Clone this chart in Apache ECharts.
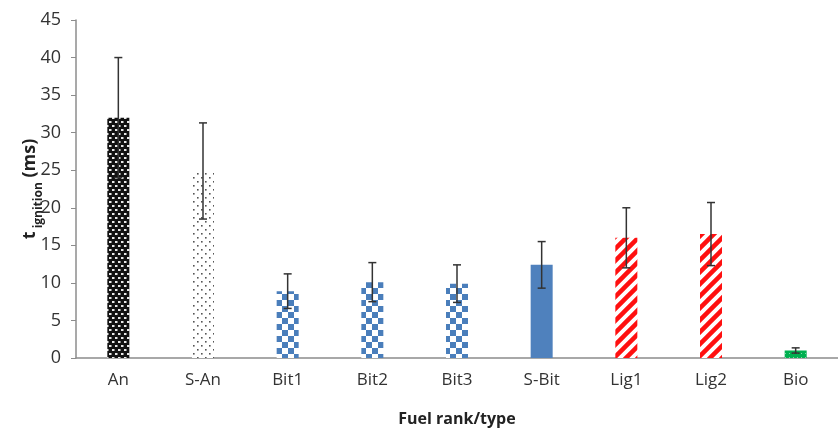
<!DOCTYPE html>
<html>
<head>
<meta charset="utf-8">
<script src="https://cdn.jsdelivr.net/npm/echarts@6/dist/echarts.min.js"></script>
<style>
  html, body { margin: 0; padding: 0; background: #fff; }
  .chart { width: 838px; height: 432px; }
</style>
</head>
<body>
<div class="chart"></div>
<script>
// data
var categories = ['An', 'S-An', 'Bit1', 'Bit2', 'Bit3', 'S-Bit', 'Lig1', 'Lig2', 'Bio'];
var ignitionTime = [32.0, 24.9, 8.9, 10.1, 9.9, 12.4, 16.0, 16.5, 1.0];
var errorSize = [8.0, 6.4, 2.3, 2.6, 2.5, 3.1, 4.0, 4.2, 0.35];

// small helper to build repeating fill patterns
function makePattern(w, h, draw) {
  var c = document.createElement('canvas');
  c.width = w;
  c.height = h;
  var ctx = c.getContext('2d');
  draw(ctx, w, h);
  return { image: c, repeat: 'repeat' };
}

var patAn = makePattern(6, 8, function (ctx, w, h) {
  ctx.fillStyle = '#111';
  ctx.fillRect(0, 0, w, h);
  ctx.fillStyle = '#e8e8e8';
  ctx.fillRect(1, 1, 2.5, 2);
  ctx.fillRect(4, 5, 2, 2);
  ctx.fillRect(0, 5, 0.5, 2);
});

var patSAn = makePattern(8, 8, function (ctx, w, h) {
  ctx.fillStyle = '#fff';
  ctx.fillRect(0, 0, w, h);
  ctx.fillStyle = '#555';
  ctx.fillRect(1, 1, 1.6, 1.6);
  ctx.fillRect(5, 5, 1.6, 1.6);
});

var patBit = makePattern(12, 12, function (ctx, w, h) {
  ctx.fillStyle = '#fff';
  ctx.fillRect(0, 0, w, h);
  ctx.fillStyle = '#4a7ebb';
  ctx.fillRect(0, 0, 6, 6);
  ctx.fillRect(6, 6, 6, 6);
});

var patLig = makePattern(12, 12, function (ctx, w, h) {
  ctx.fillStyle = '#fff';
  ctx.fillRect(0, 0, w, h);
  ctx.strokeStyle = '#ff1010';
  ctx.lineWidth = 4.5;
  ctx.beginPath();
  ctx.moveTo(-1, h + 1); ctx.lineTo(w + 1, -1);
  ctx.moveTo(-w / 2 - 1, h / 2 + 1); ctx.lineTo(w / 2 + 1, -h / 2 - 1);
  ctx.moveTo(w / 2 - 1, h * 1.5 + 1); ctx.lineTo(w * 1.5 + 1, h / 2 - 1);
  ctx.stroke();
});

var patBio = makePattern(4, 4, function (ctx, w, h) {
  ctx.fillStyle = '#00b050';
  ctx.fillRect(0, 0, w, h);
  ctx.fillStyle = '#7fd8a6';
  ctx.fillRect(1, 1, 1, 1);
});

var fills = [patAn, patSAn, patBit, patBit, patBit, '#4f81bd', patLig, patLig, patBio];

var barData = ignitionTime.map(function (v, i) {
  return { value: v, itemStyle: { color: fills[i] } };
});

var errData = ignitionTime.map(function (v, i) {
  return [i, v - errorSize[i], v + errorSize[i]];
});

var chart = echarts.init(document.getElementsByClassName('chart')[0]);

var labelFont = "'Open Sans', sans-serif";

var option = {
  animation: false,
  grid: { left: 76, right: -10, top: 20, bottom: 72 },
  xAxis: {
    type: 'category',
    data: categories,
    name: 'Fuel rank/type',
    nameLocation: 'middle',
    nameGap: 53,
    nameMoveOverlap: false,
    nameTextStyle: { fontFamily: labelFont, fontWeight: 'bold', fontSize: 16, color: '#222' },
    axisLine: { lineStyle: { color: '#8c8c8c', width: 1.5 } },
    axisTick: { show: false },
    axisLabel: { fontFamily: labelFont, fontSize: 17, color: '#333', margin: 14 }
  },
  yAxis: {
    type: 'value',
    min: 0,
    max: 45,
    interval: 5,
    name: '{t|t}{sub| ignition}{t| (ms)}',
    nameLocation: 'middle',
    nameRotate: 90,
    nameGap: 31,
    nameMoveOverlap: false,
    nameTextStyle: {
      rich: {
        t: { fontFamily: labelFont, fontWeight: 'bold', fontSize: 18, color: '#222', lineHeight: 24, verticalAlign: 'top' },
        sub: { fontFamily: labelFont, fontWeight: 'bold', fontSize: 12, color: '#222', lineHeight: 24, verticalAlign: 'bottom' }
      }
    },
    splitLine: { show: false },
    axisLine: { show: true, lineStyle: { color: '#8c8c8c', width: 1.5 } },
    axisTick: { show: true, length: 5, lineStyle: { color: '#8c8c8c' } },
    axisLabel: { fontFamily: labelFont, fontSize: 18, color: '#333', margin: 15 }
  },
  series: [
    {
      type: 'bar',
      barWidth: 22,
      data: barData
    },
    {
      type: 'custom',
      z: 5,
      data: errData,
      renderItem: function (params, api) {
        var x = api.value(0);
        var lo = api.coord([x, api.value(1)]);
        var hi = api.coord([x, api.value(2)]);
        var cap = 4;
        var style = { stroke: '#333', lineWidth: 1.5 };
        return {
          type: 'group',
          children: [
            { type: 'line', shape: { x1: hi[0], y1: hi[1], x2: lo[0], y2: lo[1] }, style: style },
            { type: 'line', shape: { x1: hi[0] - cap, y1: hi[1], x2: hi[0] + cap, y2: hi[1] }, style: style },
            { type: 'line', shape: { x1: lo[0] - cap, y1: lo[1], x2: lo[0] + cap, y2: lo[1] }, style: style }
          ]
        };
      }
    }
  ]
};

chart.setOption(option);
</script>
</body>
</html>
